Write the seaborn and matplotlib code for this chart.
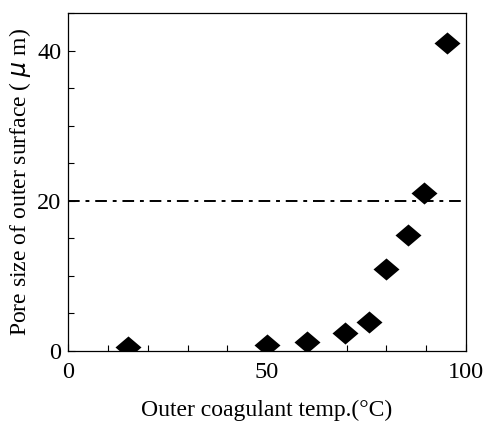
import matplotlib.pyplot as plt
import seaborn as sns
import pandas as pd
from matplotlib.ticker import MultipleLocator

sns.set_style("ticks")
plt.rcParams["font.family"] = ["Liberation Serif", "DejaVu Serif"]
plt.rcParams["text.color"] = "black"
plt.rcParams["axes.labelcolor"] = "black"
plt.rcParams["xtick.color"] = "black"
plt.rcParams["ytick.color"] = "black"

# data
temp = [15, 50, 60, 69.5, 75.5, 80, 85.3, 89.4, 95.2]
pore_size = [0.5, 0.8, 1.2, 2.4, 3.8, 10.9, 15.5, 21.1, 41.0]
limit_value = 20

df = pd.DataFrame({"temp": temp, "pore": pore_size})

# slightly flattened diamond
diamond = [(-1, 0), (0, 0.85), (1, 0), (0, -0.85), (-1, 0)]

fig = plt.figure(figsize=(4.83, 4.26), dpi=100)
ax = fig.add_axes([0.141, 0.176, 0.824, 0.793])

ax.axhline(limit_value, color="black", lw=1.4, linestyle=(0, (6, 3, 2, 3)), zorder=1)
sns.scatterplot(x="temp", y="pore", data=df, marker=diamond, s=350,
                color="black", edgecolor="black", linewidth=0, ax=ax, zorder=3)

ax.set_xlim(0, 100)
ax.set_ylim(0, 45)
ax.set_xticks([0, 50, 100])
ax.set_yticks([0, 20, 40])
ax.xaxis.set_minor_locator(MultipleLocator(10))
ax.yaxis.set_minor_locator(MultipleLocator(5))
ax.tick_params(which="both", direction="in", labelsize=17.5, width=0.8)
ax.tick_params(which="major", length=5)
ax.tick_params(axis="x", which="major", pad=8)
ax.tick_params(axis="y", which="major", pad=5)
ax.tick_params(which="minor", length=4)
for sp in ax.spines.values():
    sp.set_linewidth(0.9)
    sp.set_color("black")

ax.set_xlabel("Outer coagulant temp.(°C)", fontsize=17, labelpad=12)
ax.set_ylabel("Pore size of outer surface ( $\\mu$ m)", fontsize=17, labelpad=3)

plt.savefig("out.png", dpi=100)
